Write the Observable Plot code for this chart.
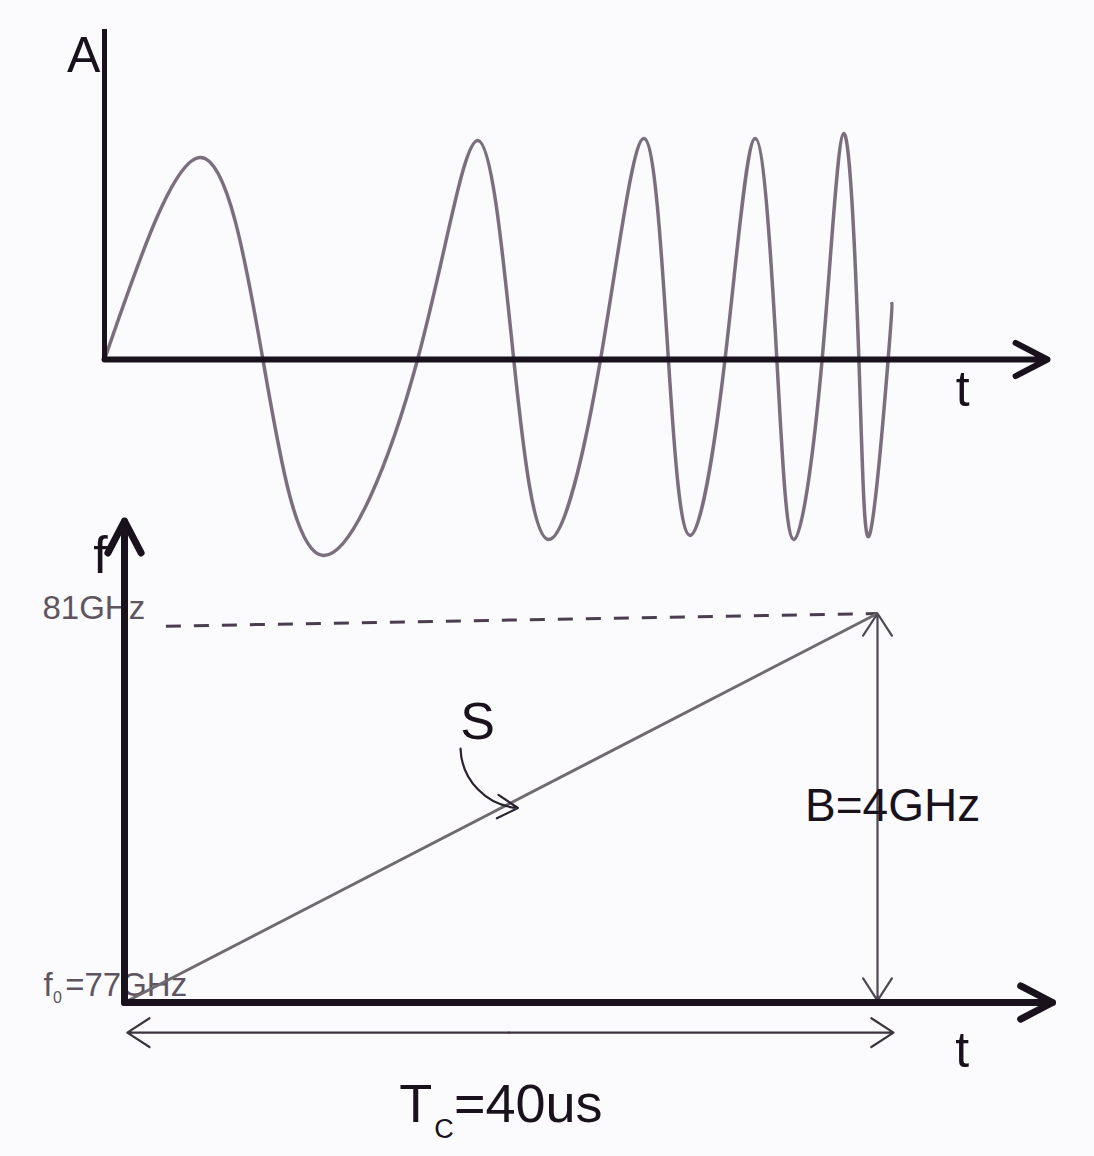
<!DOCTYPE html>
<html><head><meta charset="utf-8">
<script src="https://cdn.jsdelivr.net/npm/d3@7"></script>
<script src="https://cdn.jsdelivr.net/npm/@observablehq/plot@0.6"></script>
<style>
html,body{margin:0;padding:0;background:#fbfbfd;}
#wrap{position:relative;width:1094px;height:1156px;overflow:hidden;background:#fbfbfd;}
#wrap svg{position:absolute;left:0;top:0;overflow:visible;background:transparent;}
</style></head><body><div id="wrap"></div>
<script>
// ---- Top panel: chirp waveform (time in arbitrary units, amplitude) ----
const waveT = [0, 10.2, 16.8, 23.2, 33.2, 39.6, 43.4, 47.1, 52.6, 57.2, 59.8, 62.1, 65.8, 69.0, 71.3, 73.1, 76.1, 78.4, 80.0, 81.1, 83.1, 83.5];
const waveA = [0, 1.01, 0, -0.98, 0, 1.095, 0, -0.90, 0, 1.105, 0, -0.88, 0, 1.105, 0, -0.90, 0, 1.13, 0, -0.88, 0, 0.28];
const topAxisEndT = 100;
const topAxisEndA = 1.65;
const topLabelText = ["A", "t"];
const topLabelT = [-2.2, 91.0];
const topLabelA = [1.52, -0.15];

// ---- Bottom panel: frequency ramp (time in us, frequency in GHz) ----
const Tc = 40;              // chirp duration, us
const fStart = 77;          // GHz
const fEnd = 81;            // GHz
const bottomAxisEndT = 49.3;
const bottomAxisEndF = 81.95;
const dashStartT = 2.2;
const dashF = [80.87, 81];
const tcArrowF = 76.69;
const tcArrowEndT = 40.85;
const sArrowT = [17.85, 20.9];
const sArrowF = [79.61, 79.0];
const bigLabelText = ["f", "S", "B=4GHz", "t"];
const bigLabelT = [-1.27, 18.75, 40.8, 44.5];
const bigLabelF = [81.59, 79.88, 79.02, 76.5];
const bigLabelSize = [52, 52, 46, 50];
const freqLabelText = ["81GHz"];
const freqLabelT = [-4.36];
const freqLabelF = [80.94];

const ink = "#19121c";
const font = "Liberation Sans, Arial, Helvetica, sans-serif";

const wave = waveT.map((t, i) => ({t, a: waveA[i]}));

const topPlot = Plot.plot({
  width: 1094, height: 1156,
  marginLeft: 104, marginRight: 47, marginTop: 29, marginBottom: 557,
  x: {domain: [0, topAxisEndT], axis: null},
  y: {domain: [-1.2, topAxisEndA], axis: null},
  style: {background: "transparent", overflow: "visible"},
  marks: [
    Plot.line(wave, {x: "t", y: "a", curve: "natural", stroke: "#7b6f7e", strokeWidth: 3.5}),
    Plot.ruleX([0], {y1: 0, y2: topAxisEndA, stroke: ink, strokeWidth: 5}),
    Plot.arrow([{x1: 0, y1: 0, x2: topAxisEndT, y2: 0}], {x1: "x1", y1: "y1", x2: "x2", y2: "y2", stroke: ink, strokeWidth: 6, headLength: 9, headAngle: 55}),
    Plot.text(topLabelText.map((s, i) => ({s, t: topLabelT[i], a: topLabelA[i]})), {x: "t", y: "a", text: "s", fontSize: 50, fontFamily: font, fill: ink, textAnchor: "middle", lineAnchor: "middle"})
  ]
});

const ramp = [{t1: 0, f1: fStart, t2: Tc, f2: fEnd}];
const bottomPlot = Plot.plot({
  width: 1094, height: 1156,
  marginLeft: 124, marginRight: 28.75, marginTop: 515.75, marginBottom: 56.75,
  x: {domain: [0, 50], axis: null},
  y: {domain: [76, 82], axis: null},
  style: {background: "transparent", overflow: "visible"},
  marks: [
    // labels under the axes
    Plot.text(freqLabelText.map((s, i) => ({s, t: freqLabelT[i], f: freqLabelF[i]})), {x: "t", y: "f", text: "s", fontSize: 33, fontFamily: font, fill: "#5e5561", textAnchor: "start", lineAnchor: "bottom"}),
    Plot.text([{s: "f", t: -4.3, f: 77.07}], {x: "t", y: "f", text: "s", fontSize: 33, fontFamily: font, fill: "#5e5561", textAnchor: "start", lineAnchor: "bottom"}),
    Plot.text([{s: "0", t: -3.8, f: 76.99}], {x: "t", y: "f", text: "s", fontSize: 16, fontFamily: font, fill: "#5e5561", textAnchor: "start", lineAnchor: "bottom"}),
    Plot.text([{s: "=77GHz", t: -3.15, f: 77.07}], {x: "t", y: "f", text: "s", fontSize: 33, fontFamily: font, fill: "#5e5561", textAnchor: "start", lineAnchor: "bottom"}),
    // dashed 81 GHz level
    Plot.link([{t1: dashStartT, f1: dashF[0], t2: Tc, f2: dashF[1]}], {x1: "t1", y1: "f1", x2: "t2", y2: "f2", stroke: "#4b3d50", strokeWidth: 3, strokeDasharray: "15,13"}),
    // ramp
    Plot.link(ramp, {x1: "t1", y1: "f1", x2: "t2", y2: "f2", stroke: "#6e6a70", strokeWidth: 3}),
    // bandwidth double arrow
    Plot.arrow([{x1: Tc, y1: (fStart + fEnd) / 2, x2: Tc, y2: fEnd}, {x1: Tc, y1: (fStart + fEnd) / 2, x2: Tc, y2: fStart + 0.02}], {x1: "x1", y1: "y1", x2: "x2", y2: "y2", stroke: "#4e4852", strokeWidth: 2.2, headLength: 18, headAngle: 66}),
    // Tc double arrow
    Plot.arrow([{x1: tcArrowEndT / 2, y1: tcArrowF, x2: 0.15, y2: tcArrowF}, {x1: tcArrowEndT / 2, y1: tcArrowF, x2: tcArrowEndT, y2: tcArrowF}], {x1: "x1", y1: "y1", x2: "x2", y2: "y2", stroke: "#3c3540", strokeWidth: 2.2, headLength: 18, headAngle: 66}),
    // S pointer
    Plot.arrow([{x1: sArrowT[0], y1: sArrowF[0], x2: sArrowT[1], y2: sArrowF[1]}], {x1: "x1", y1: "y1", x2: "x2", y2: "y2", bend: -42, stroke: "#2a222e", strokeWidth: 2.2, headLength: 16, headAngle: 60}),
    // axes
    Plot.arrow([{x1: 0, y1: fStart, x2: 0, y2: bottomAxisEndF}, {x1: 0, y1: fStart, x2: bottomAxisEndT, y2: fStart}], {x1: "x1", y1: "y1", x2: "x2", y2: "y2", stroke: ink, strokeWidth: 7, headLength: 7.7, headAngle: 55}),
    // big labels
    Plot.text(bigLabelText.map((s, i) => ({s, t: bigLabelT[i], f: bigLabelF[i], z: bigLabelSize[i]})), {x: "t", y: "f", text: "s", fontSize: (d) => d.z, fontFamily: font, fill: ink, textAnchor: "middle", lineAnchor: "middle"}),
    Plot.text([{s: "T", t: 14.6, f: 75.77}], {x: "t", y: "f", text: "s", fontSize: 54, fontFamily: font, fill: ink, textAnchor: "start", lineAnchor: "bottom"}),
    Plot.text([{s: "C", t: 16.45, f: 75.61}], {x: "t", y: "f", text: "s", fontSize: 27, fontFamily: font, fill: ink, textAnchor: "start", lineAnchor: "bottom"}),
    Plot.text([{s: "=40us", t: 17.5, f: 75.77}], {x: "t", y: "f", text: "s", fontSize: 54, fontFamily: font, fill: ink, textAnchor: "start", lineAnchor: "bottom"})
  ]
});

const wrap = document.getElementById("wrap");
wrap.appendChild(topPlot);
wrap.appendChild(bottomPlot);
</script></body></html>
